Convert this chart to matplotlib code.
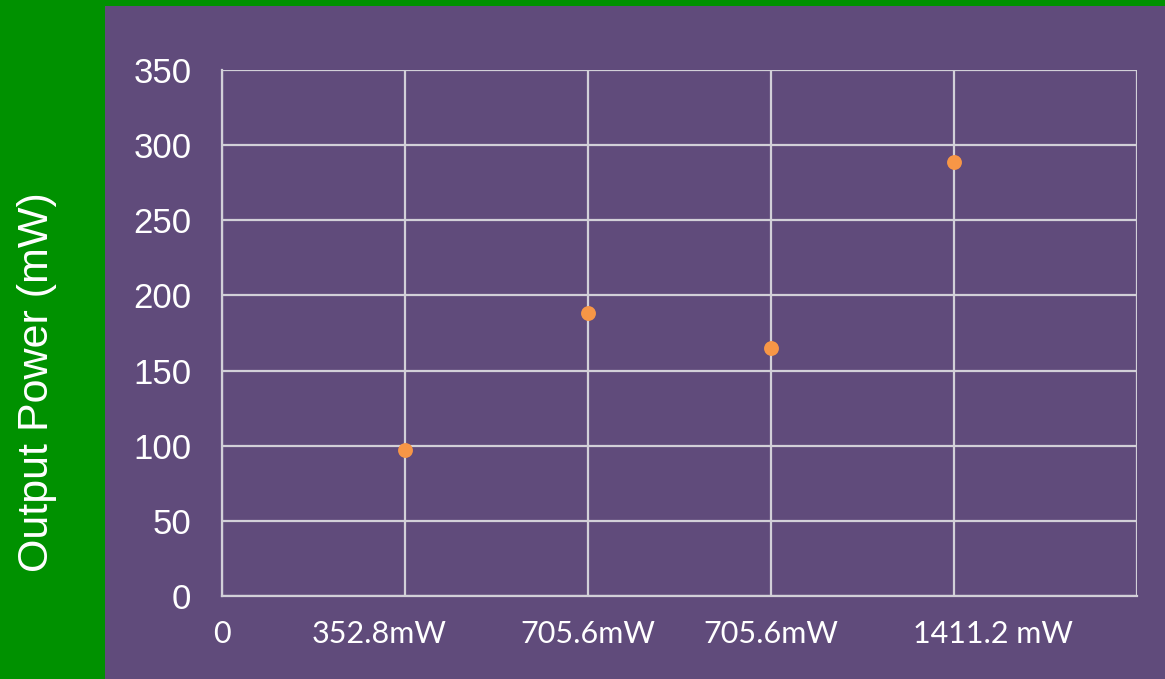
import matplotlib
matplotlib.use("Agg")
import matplotlib.pyplot as plt
from matplotlib.patches import Rectangle
from matplotlib.transforms import ScaledTranslation

# Data
categories = ["0", "352.8mW", "705.6mW", "705.6mW", "1411.2 mW"]
output_power = [97, 188, 165, 289]
y_ticks = [0, 50, 100, 150, 200, 250, 300, 350]

# Horizontal nudge of each category label, in pixels
label_shift_px = [0, -26, 0, 0, 39]

GREEN = "#009100"
PURPLE = "#604b7b"
GRID = "#d2d0d8"
ORANGE = "#f79646"
TEXT = "#ffffff"

W, H = 1165, 679
DPI = 100
fig = plt.figure(figsize=(W / DPI, H / DPI), dpi=DPI, facecolor=GREEN)

# Purple panel behind the plot
fig.patches.append(Rectangle((105 / W, 0), 1 - 105 / W, 1 - 6 / H,
                             transform=fig.transFigure, facecolor=PURPLE,
                             edgecolor="none", zorder=-5))

ax = fig.add_axes([222 / W, 1 - 596 / H, (1137 - 222) / W, (596 - 70) / H])
ax.set_zorder(2)
ax.set_facecolor(PURPLE)

x_pos = list(range(1, len(output_power) + 1))
ax.scatter(x_pos, output_power, s=115, color=ORANGE, zorder=3, linewidths=0)

ax.set_xlim(0, 5)
ax.set_ylim(0, 350)
ax.set_xticks(range(6))
ax.set_yticks(y_ticks)
ax.grid(True, color=GRID, linewidth=1.6)
ax.set_axisbelow(True)
for side in ("top", "right"):
    ax.spines[side].set_visible(False)
for side in ("left", "bottom"):
    ax.spines[side].set_color(GRID)
    ax.spines[side].set_linewidth(1.6)

ax.set_xticklabels(categories + [""], fontfamily="Lato", fontsize=22, color=TEXT)
ax.set_yticklabels([str(v) for v in y_ticks], fontfamily="Liberation Sans",
                   fontsize=25, color=TEXT)
ax.tick_params(axis="x", length=0, pad=17)
ax.tick_params(axis="y", length=0, pad=22)

for lbl, dx in zip(ax.get_xticklabels(), label_shift_px + [0]):
    lbl.set_transform(lbl.get_transform() + ScaledTranslation(dx / DPI, 0, fig.dpi_scale_trans))

fig.text(37 / W, 1 - 382 / H, "Output Power (mW)", rotation=90,
         ha="center", va="center", color=TEXT, fontsize=31,
         fontfamily="Liberation Sans")

fig.savefig("out.png", dpi=DPI, facecolor=GREEN)
